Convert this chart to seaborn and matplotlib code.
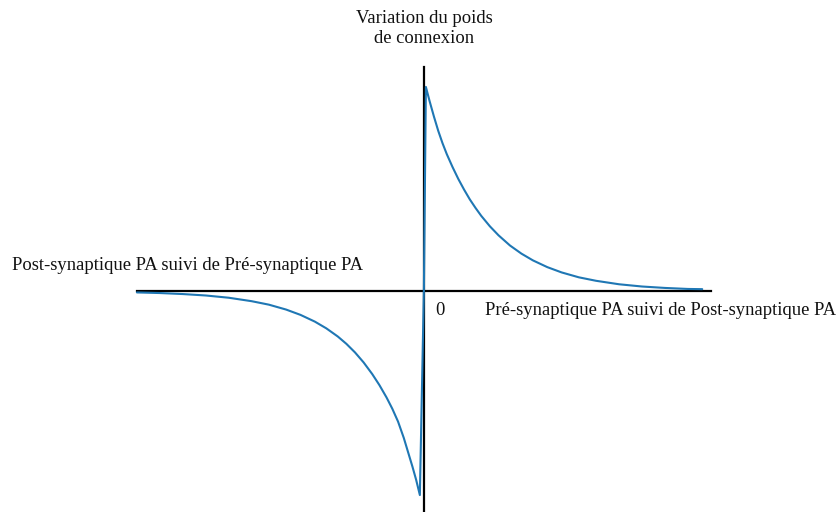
"""
STDP curve: weight change vs. spike timing (pre/post synaptic PA).
"""
import numpy as np
import pandas as pd
import matplotlib
matplotlib.use("Agg")
import matplotlib.pyplot as plt
import seaborn as sns

sns.set_theme(style="white")
plt.rcParams["font.family"] = ["Liberation Serif", "DejaVu Serif"]

# ---------- Data ----------
# delay between spikes (arbitrary units), left branch: post before pre
dt_neg = [-100, -92, -84, -76, -68, -60, -54, -48, -43, -38, -34, -30,
          -27, -24, -21, -18, -15.5, -13, -11, -9, -7, -5.5, -4, -2.7,
          -1.4]
dw_neg = [-0.007, -0.010, -0.015, -0.022, -0.033, -0.050, -0.067, -0.091,
          -0.117, -0.150, -0.183, -0.223, -0.259, -0.301, -0.350, -0.407,
          -0.461, -0.522, -0.577, -0.640, -0.720, -0.790, -0.860, -0.925,
          -1.0]
# right branch: pre before post
dt_pos = [0.7, 2, 3.5, 5, 6.5, 8, 10, 12, 14, 16, 18, 20, 23, 26, 30, 34,
          38, 43, 48, 54, 60, 68, 76, 84, 92, 97]
dw_pos = [1.0, 0.930, 0.855, 0.785, 0.724, 0.670, 0.607, 0.549, 0.497,
          0.449, 0.407, 0.368, 0.317, 0.273, 0.223, 0.183, 0.150, 0.117,
          0.091, 0.067, 0.050, 0.033, 0.022, 0.015, 0.010, 0.009]

df = pd.DataFrame({
    "dt": dt_neg + [0.0] + dt_pos,
    "dw": dw_neg + [0.0] + dw_pos,
})

# ---------- Figure ----------
fig = plt.figure(figsize=(8.38, 5.12), dpi=100)
ax = fig.add_axes([0, 0, 1, 1])
sns.lineplot(data=df, x="dt", y="dw", sort=False, color="#1f77b4",
             linewidth=1.5, ax=ax, zorder=3)

ax.set_xlim(-147.7, 144.3)
ax.set_ylim(-1.083, 1.426)

# axes drawn through the origin
for side in ["top", "right"]:
    ax.spines[side].set_visible(False)
ax.spines["left"].set_position(("data", 0))
ax.spines["bottom"].set_position(("data", 0))
ax.spines["left"].set_bounds(-1.2, 1.1)
ax.spines["bottom"].set_bounds(-100, 100)
for side in ["left", "bottom"]:
    ax.spines[side].set_color("black")
    ax.spines[side].set_linewidth(1.6)
ax.set_xticks([])
ax.set_yticks([])
ax.set_xlabel("")
ax.set_ylabel("")

fs = 13.4
ax.text(0, 1.285, "Variation du poids\nde connexion", ha="center",
        va="center", fontsize=fs, color="#111111", linespacing=1.2)
ax.text(-143.5, 0.127, "Post-synaptique PA suivi de Pré-synaptique PA",
        ha="left", va="center", fontsize=fs, color="#111111")
ax.text(4.0, -0.095, "0", ha="left", va="center", fontsize=fs,
        color="#111111")
ax.text(21.2, -0.095, "Pré-synaptique PA suivi de Post-synaptique PA",
        ha="left", va="center", fontsize=fs, color="#111111")

fig.savefig("out.png", dpi=100)
